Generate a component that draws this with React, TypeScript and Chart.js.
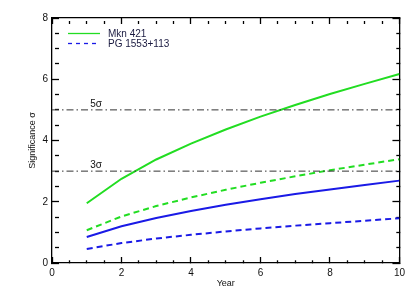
import React, { useEffect, useRef } from "react";
import { Chart, registerables } from "chart.js";

Chart.register(...registerables);

const years = [1, 2, 3, 4, 5, 6, 7, 8, 9, 10];
const mkn421Solid = [1.95, 2.75, 3.38, 3.9, 4.36, 4.78, 5.16, 5.52, 5.85, 6.17];
const mkn421Dashed = [1.07, 1.52, 1.86, 2.14, 2.39, 2.62, 2.83, 3.03, 3.21, 3.39];
const pgSolid = [0.85, 1.2, 1.47, 1.7, 1.9, 2.08, 2.25, 2.4, 2.55, 2.69];
const pgDashed = [0.46, 0.65, 0.8, 0.92, 1.03, 1.13, 1.22, 1.3, 1.38, 1.46];
const sigmaLevels = [5, 3];
const sigmaLabels = ["5σ", "3σ"];
const xRange = [0, 10];
const yRange = [0, 8];
const legendLabels = ["Mkn 421", "PG 1553+113"];

const GREEN = "#22dd22";
const BLUE = "#1a1ae6";
const FONT = "'Liberation Sans', Arial, sans-serif";
const LW = 1.3;

const isMajor = (v: number) => Math.abs(v / 2 - Math.round(v / 2)) < 1e-9;

const gridFor = (majorLen: number, minorLen: number) => ({
  display: true,
  drawOnChartArea: false,
  drawTicks: true,
  tickLength: -majorLen,
  tickColor: "#000",
  tickWidth: LW,
  tickBorderDash: (c: any) => (c.tick && isMajor(c.tick.value) ? [] : [minorLen, 40]),
});

const textPlugin = {
  id: "texts",
  afterDraw(chart: any) {
    const { ctx, chartArea: a, scales } = chart;
    const xs = scales.x;
    const ys = scales.y;
    ctx.save();
    ctx.fillStyle = "#111";
    ctx.font = `10px ${FONT}`;
    ctx.textAlign = "left";
    ctx.textBaseline = "bottom";
    sigmaLevels.forEach((lv, i) => {
      ctx.fillText(sigmaLabels[i], xs.getPixelForValue(1.1), ys.getPixelForValue(lv) - 1);
    });

    // legend
    const lx0 = a.left + 16;
    const lx1 = a.left + 48;
    const ly = [a.top + 15.5, a.top + 25.5];
    ctx.lineWidth = 1.3;
    ctx.strokeStyle = GREEN;
    ctx.setLineDash([]);
    ctx.beginPath();
    ctx.moveTo(lx0, ly[0]);
    ctx.lineTo(lx1, ly[0]);
    ctx.stroke();
    ctx.strokeStyle = BLUE;
    ctx.setLineDash([4, 4]);
    ctx.beginPath();
    ctx.moveTo(lx0, ly[1]);
    ctx.lineTo(lx1, ly[1]);
    ctx.stroke();
    ctx.setLineDash([]);
    ctx.fillStyle = "#1a1a40";
    ctx.font = `10px ${FONT}`;
    ctx.textBaseline = "middle";
    ctx.fillText(legendLabels[0], lx1 + 8, ly[0] + 0.5);
    ctx.fillText(legendLabels[1], lx1 + 8, ly[1] + 0.5);

    // axis titles
    ctx.fillStyle = "#111";
    ctx.font = `9px ${FONT}`;
    ctx.textAlign = "center";
    ctx.fillText("Year", (a.left + a.right) / 2, 284);
    ctx.save();
    ctx.translate(33, (a.top + a.bottom) / 2);
    ctx.rotate(-Math.PI / 2);
    ctx.fillText("Significance σ", 0, 0);
    ctx.restore();
    ctx.restore();
  },
};

export default function App() {
  const ref = useRef<HTMLCanvasElement>(null);
  useEffect(() => {
    document.body.style.margin = "0";
    const toPts = (arr: number[]) => years.map((y, i) => ({ x: y, y: arr[i] }));
    const sigmaSets = sigmaLevels.map((lv) => ({
      data: [
        { x: xRange[0], y: lv },
        { x: xRange[1], y: lv },
      ],
      borderColor: "#333",
      borderWidth: 1,
      borderDash: [7, 3, 1.5, 3],
      pointRadius: 0,
      fill: false,
    }));
    const labelFn = (v: any) => (isMajor(Number(v)) ? String(v) : "");
    const border = { display: true, color: "#000", width: LW };
    const chart = new Chart(ref.current!, {
      type: "line",
      data: {
        datasets: [
          ...sigmaSets,
          { data: toPts(mkn421Solid), borderColor: GREEN, borderWidth: 2, pointRadius: 0, tension: 0 },
          { data: toPts(mkn421Dashed), borderColor: GREEN, borderWidth: 2, borderDash: [6, 4], pointRadius: 0, tension: 0 },
          { data: toPts(pgSolid), borderColor: BLUE, borderWidth: 2, pointRadius: 0, tension: 0 },
          { data: toPts(pgDashed), borderColor: BLUE, borderWidth: 2, borderDash: [6, 4], pointRadius: 0, tension: 0 },
        ] as any,
      },
      options: {
        animation: false,
        responsive: false,
        layout: { padding: { left: 0, top: 18, right: 15, bottom: 0 } },
        plugins: { legend: { display: false }, tooltip: { enabled: false } },
        scales: {
          x: {
            type: "linear",
            position: "bottom",
            min: xRange[0],
            max: xRange[1],
            grid: gridFor(6, 3),
            border,
            ticks: {
              stepSize: 0.5,
              autoSkip: false,
              maxTicksLimit: 100,
              callback: labelFn,
              color: "#111",
              font: { family: FONT, size: 10 },
              padding: 10,
              maxRotation: 0,
            },
            afterFit: (s: any) => {
              s.height = 34;
            },
          },
          x2: {
            type: "linear",
            position: "top",
            min: xRange[0],
            max: xRange[1],
            grid: gridFor(6, 3),
            border,
            ticks: { stepSize: 0.5, autoSkip: false, maxTicksLimit: 100, display: false },
            afterFit: (s: any) => {
              s.height = 0;
            },
          },
          y: {
            type: "linear",
            position: "left",
            min: yRange[0],
            max: yRange[1],
            grid: gridFor(7, 4),
            border,
            ticks: {
              stepSize: 0.5,
              autoSkip: false,
              maxTicksLimit: 100,
              callback: labelFn,
              color: "#111",
              font: { family: FONT, size: 10 },
              padding: 11,
            },
            afterFit: (s: any) => {
              s.width = 52;
            },
          },
          y2: {
            type: "linear",
            position: "right",
            min: yRange[0],
            max: yRange[1],
            grid: gridFor(7, 4),
            border,
            ticks: { stepSize: 0.5, autoSkip: false, maxTicksLimit: 100, display: false },
            afterFit: (s: any) => {
              s.width = 0;
            },
          },
        },
      } as any,
      plugins: [textPlugin],
    });
    return () => chart.destroy();
  }, []);
  return <canvas ref={ref} width={415} height={297} style={{ display: "block" }} />;
}
